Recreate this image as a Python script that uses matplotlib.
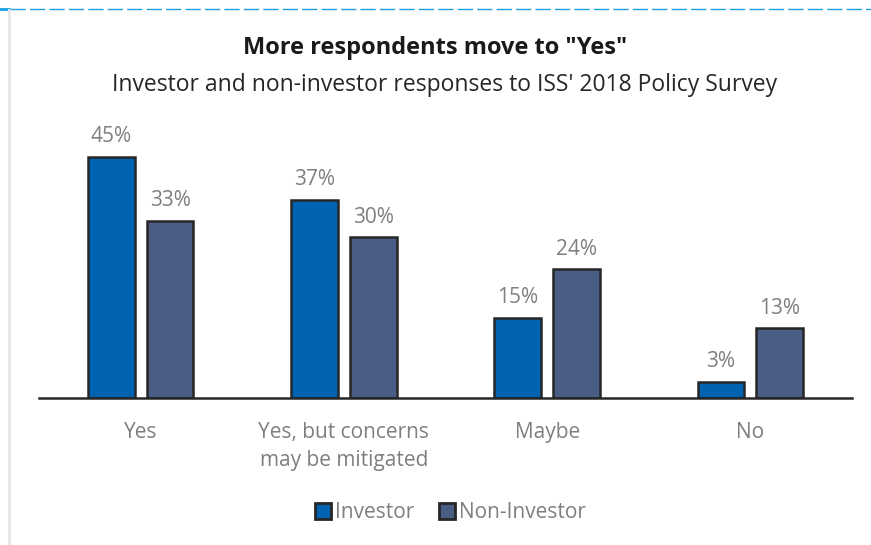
import numpy as np
import matplotlib.pyplot as plt
from matplotlib.lines import Line2D

plt.rcParams['font.family'] = ['Open Sans', 'DejaVu Sans']

categories = ['Yes', 'Yes, but concerns\nmay be mitigated', 'Maybe', 'No']
investor = [45, 37, 15, 3]
non_investor = [33, 30, 24, 13]
series_names = ['Investor', 'Non-Investor']

c_inv = '#0063B1'
c_non = '#4A5E85'
edge = '#262626'
grey = '#7F7F7F'

fig = plt.figure(figsize=(8.71, 5.45), dpi=100)
ax = fig.add_axes([0.0448, 0.2697, 0.9334, 0.4917])

x = np.arange(len(categories))
w = 0.23
off = 0.145
b1 = ax.bar(x - off, investor, w, color=c_inv, edgecolor=edge, linewidth=1.8)
b2 = ax.bar(x + off, non_investor, w, color=c_non, edgecolor=edge, linewidth=1.8)

for bars, vals in ((b1, investor), (b2, non_investor)):
    for b, v in zip(bars, vals):
        ax.annotate(f'{v}%', (b.get_x() + b.get_width() / 2, v),
                    xytext=(0, 7), textcoords='offset points',
                    ha='center', va='bottom', fontsize=15, color=grey)

ax.set_xlim(-0.5, 3.5)
ax.set_ylim(0, 50)
ax.set_yticks([])
ax.set_xticks(x)
ax.set_xticklabels(categories, fontsize=15, color=grey, linespacing=1.45)
ax.tick_params(axis='x', length=0, pad=17)
for s in ['top', 'right', 'left']:
    ax.spines[s].set_visible(False)
ax.spines['bottom'].set_color(edge)
ax.spines['bottom'].set_linewidth(1.8)

fig.text(0.5, 0.912, 'More respondents move to "Yes"', ha='center', va='center',
         fontsize=17, fontweight='bold', color='#1A1A1A')
fig.text(0.51, 0.844, "Investor and non-investor responses to ISS' 2018 Policy Survey",
         ha='center', va='center', fontsize=16.5, color='#262626')

handles = [Line2D([], [], marker='s', linestyle='none', markersize=11,
                  markerfacecolor=c, markeredgecolor=edge, markeredgewidth=2)
           for c in (c_inv, c_non)]
leg = fig.legend(handles, series_names, loc='center', bbox_to_anchor=(0.517, 0.059),
                 ncol=2, frameon=False, fontsize=15, handletextpad=0.15,
                 columnspacing=1.2, handlelength=0.8)
for t in leg.get_texts():
    t.set_color(grey)

# frame decorations
fig.add_artist(Line2D([0.011, 1.0], [0.983, 0.983], color='#1BA1E2',
                      linewidth=1.0, linestyle=(0, (11, 3))))
fig.add_artist(Line2D([0, 0.010], [0.983, 0.983], color='#1BA1E2', linewidth=2))
fig.add_artist(Line2D([0.0105, 0.0105], [0, 0.982], color='#E6E6E6', linewidth=2))

fig.savefig('out.png', dpi=100)
